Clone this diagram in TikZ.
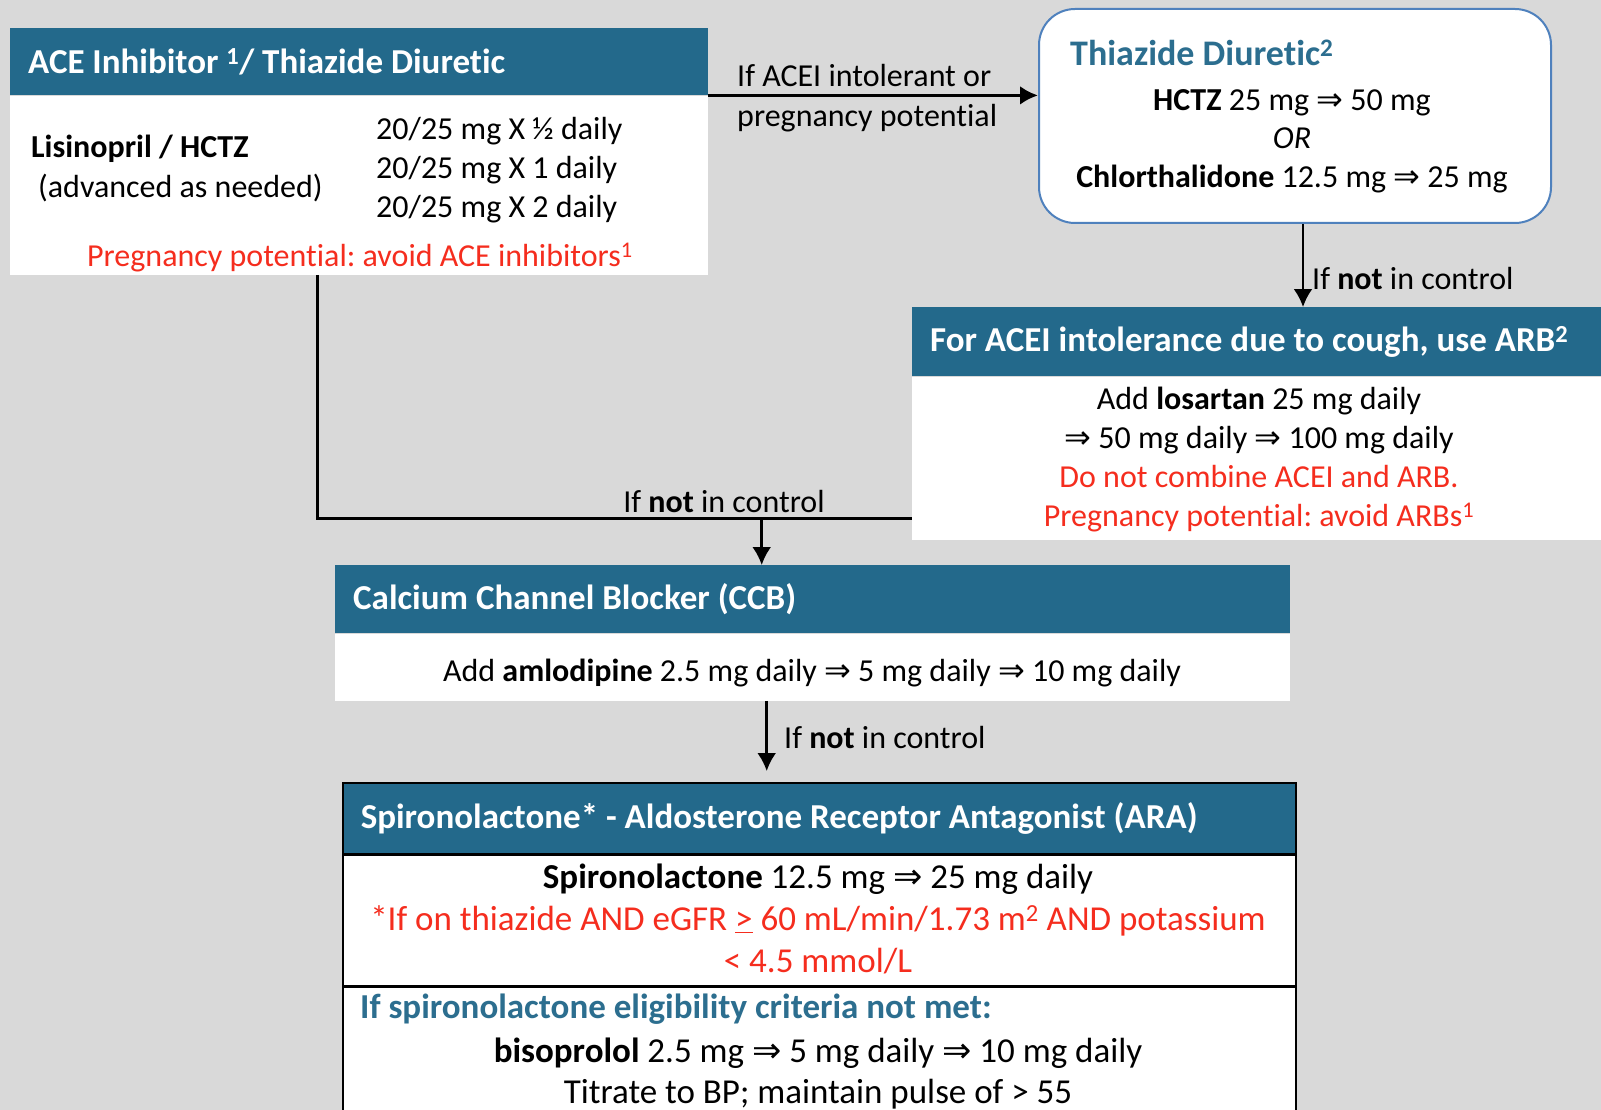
\documentclass[tikz,border=0pt]{standalone}
\usepackage{fontspec}
\setmainfont{Carlito}[Ligatures=NoCommon]
\newfontfamily\dejavu{DejaVu Sans}
\usetikzlibrary{positioning,arrows.meta}
\definecolor{hdrblue}{RGB}{35,105,139}
\definecolor{ttlblue}{RGB}{44,110,143}
\definecolor{bordblue}{RGB}{79,129,189}
\definecolor{warnred}{RGB}{245,45,30}
\definecolor{bggray}{RGB}{217,217,217}
\newcommand{\ra}{{\dejavu ⇒}}
\newcommand{\fsize}[2]{\fontsize{#1}{#2}\selectfont}
\frenchspacing
\tikzset{
myhdr/.style={
  fill=hdrblue,
  text=white,
  font=\fsize{35}{40}\bfseries,
  anchor=north west,
  inner xsep=18pt,
  inner ysep=0pt,
  align=flush left
  },
mybox/.style={
  fill=white,
  anchor=north west,
  inner sep=0pt
  },
mytxt/.style={
  inner sep=0pt,
  font=\fsize{32}{39},
  align=center
  },
mybig/.style={
  mytxt,
  font=\fsize{35}{42}
  },
mylbl/.style={
  mytxt,
  anchor=mid west
  }
}

\begin{document}
\begin{tikzpicture}[x=1pt, y=-1pt, >={Latex[length=18pt,width=19pt]}]
\useasboundingbox (0,0) rectangle (1601,1110);
\fill[bggray] (0,0) rectangle (1601,1110);

\node[myhdr, text width=662pt, minimum height=67pt]
at (10,28)
(acehdr)
{ACE Inhibitor \textsuperscript{1}/ Thiazide Diuretic};
\node[mybox, below=0pt of acehdr, minimum width=698pt, minimum height=179pt]
(acebody) {};
\node[mytxt, anchor=west, align=left, font=\fsize{32}{40}]
at (31,168)
(acedrug)
{\textbf{Lisinopril / HCTZ}\\\hspace*{7pt}(advanced as needed)};
\node[mytxt, anchor=west, align=left]
at (376,170)
(acedose)
{20/25 mg X ½ daily\\20/25 mg X 1 daily\\20/25 mg X 2 daily};
\node[mytxt, text=warnred]
at (360,258)
(acewarn)
{Pregnancy potential: avoid ACE inhibitors\textsuperscript{1}};

\node[draw=bordblue, line width=2pt, fill=white, rounded corners=36pt,
  minimum width=512pt, minimum height=214pt, anchor=north west]
at (1038,8)
(thz) {};
\node[mylbl, font=\fsize{36}{40}\bfseries, text=ttlblue]
at (1070,63)
(thzttl)
{Thiazide Diuretic\textsuperscript{2}};
\node[mytxt, font=\fsize{32}{38.5}]
at (1292,141)
(thzdose)
{\textbf{HCTZ} 25 mg \ra{} 50 mg\\\textit{OR}\\\textbf{Chlorthalidone} 12.5 mg \ra{} 25 mg};

\node[myhdr, text width=653pt, minimum height=69pt]
at (912,307)
(arbhdr)
{\mbox{For ACEI intolerance due to cough, use ARB\textsuperscript{2}}};
\node[mybox, below=0pt of arbhdr, minimum width=689pt, minimum height=163pt]
(arbbody) {};
\node[mytxt]
at (1259,460)
(arbdose)
{Add \textbf{losartan} 25 mg daily\\\ra{} 50 mg daily \ra{} 100 mg daily\\
\color{warnred}Do not combine ACEI and ARB.\\
\color{warnred}Pregnancy potential: avoid ARBs\textsuperscript{1}};

\node[myhdr, text width=919pt, minimum height=68pt]
at (335,565)
(ccbhdr)
{Calcium Channel Blocker (CCB)};
\node[mybox, below=0pt of ccbhdr, minimum width=955pt, minimum height=67pt]
(ccbbody) {};
\node[mytxt]
at (812,673)
(ccbdose)
{Add \textbf{amlodipine} 2.5 mg daily \ra{} 5 mg daily \ra{} 10 mg daily};

\node[myhdr, draw=black, line width=1.5pt, text width=917pt, minimum height=71pt]
at (342,782)
(arahdr)
{Spironolactone* - Aldosterone Receptor Antagonist (ARA)};
\node[mybox, draw=black, line width=1.5pt, below=0pt of arahdr,
  minimum width=953pt, minimum height=130pt]
(araone) {};
\node[mybox, draw=black, line width=1.5pt, below=0pt of araone,
  minimum width=953pt, minimum height=145pt]
(aratwo) {};
\node[mybig]
at (818,919)
(aradose)
{\textbf{Spironolactone} 12.5 mg \ra{} 25 mg daily\\
\color{warnred}*If on thiazide AND eGFR \underline{>} 60 mL/min/1.73 m\textsuperscript{2} AND potassium\\
\color{warnred}< 4.5 mmol/L};
\node[mylbl, font=\fsize{35}{40}\bfseries, text=ttlblue]
at (360,1016)
(araalt)
{If spironolactone eligibility criteria not met:};
\node[mybig, font=\fsize{35}{41}]
at (818,1074)
(arabiso)
{\textbf{bisoprolol} 2.5 mg \ra{} 5 mg daily \ra{} 10 mg daily\\
Titrate to BP; maintain pulse of > 55};

\coordinate (thzout) at ([xshift=8pt]thz.south);
\coordinate (aceout) at ([xshift=-42pt]acebody.south);
\coordinate (ccbin) at ([xshift=-51pt]ccbhdr.north);
\coordinate (jn) at ([yshift=47pt]ccbin);
\coordinate (ccbout) at ([xshift=-46pt]ccbbody.south);

\draw[->, line width=3.5pt]
  (acehdr.south east) -- (acehdr.south east -| thz.west);
\node[mytxt, anchor=west, align=left, font=\fsize{32}{40}]
at (737,98)
(lblacei)
{If ACEI intolerant or\\pregnancy potential};

\draw[->, line width=2.5pt]
  (thzout) -- (thzout |- arbhdr.north);
\node[mylbl]
at (1312,287)
(lblthz)
{If \textbf{not} in control};

\draw[line width=3pt]
  (aceout) |- (jn -| arbbody.west);
\draw[->, line width=2.5pt]
  (jn) -- (ccbin);
\node[mytxt]
at (724,502)
(lbljn)
{If \textbf{not} in control};

\draw[->, line width=2.5pt, shorten >=11pt]
  (ccbout) -- (ccbout |- arahdr.north);
\node[mylbl]
at (784,746)
(lblccb)
{If \textbf{not} in control};
\end{tikzpicture}
\end{document}
